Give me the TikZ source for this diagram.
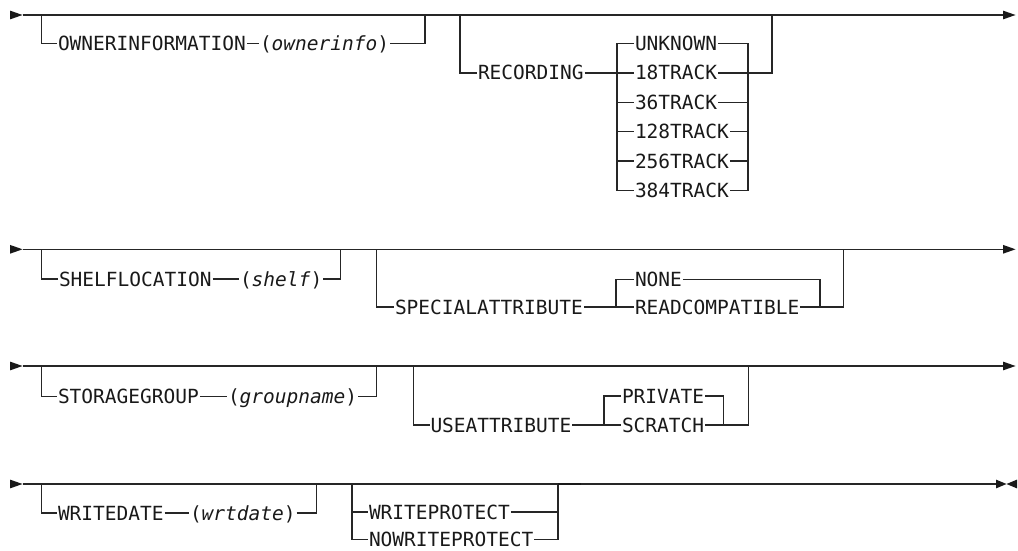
\documentclass[tikz,border=0pt]{standalone}
\usepackage{fontspec}
\newfontfamily\dmono{DejaVu Sans Mono}
\begin{document}
\tikzset{
  rail/.style={line width=1.3pt, draw=black!85},
  thickrail/.style={line width=2.8pt, draw=black!90},
  kw/.style={inner xsep=0.8pt, inner ysep=0pt, anchor=west, text height=14.2pt,
             text depth=0pt, font=\dmono\fontsize{19.5}{20}\selectfont, text=black!90},
  tip/.style={fill=black!90, draw=none},
}
\begin{tikzpicture}[x=1pt,y=-1pt]
\useasboundingbox (0,0) rectangle (1018,551);

% ================= Row 1 =================
\coordinate (r1s) at (22.5,15);
\coordinate (r1e) at (1003,15);
\fill[tip] (10,10.6) -- (r1s) -- (10,19.4) -- cycle;
\draw[rail] (r1s) -- (r1e);
\fill[tip] (1003,10.6) -- (1015.5,15) -- (1003,19.4) -- cycle;

\node[kw] (own) at (57,43.5) {OWNERINFORMATION};
\node[kw] (ownv) at (259,43.5) {(\textit{ownerinfo})};
\coordinate (own1) at (41.7,15);
\coordinate (own2) at (425,15);
\draw[rail] (own1) |- (own.west);
\draw[rail] (own.east) -- (ownv.west);
\draw[rail] (ownv.east) -| (own2);

\coordinate (rec1) at (460,15);
\coordinate (rec2) at (772,15);
\node[kw] (rec) at (477,72.9) {RECORDING};
\node[kw] (c1) at (634,43.5) {UNKNOWN};
\node[kw] (c2) at (634,72.9) {18TRACK};
\node[kw] (c3) at (634,102.3) {36TRACK};
\node[kw] (c4) at (634,131.7) {128TRACK};
\node[kw] (c5) at (634,161.1) {256TRACK};
\node[kw] (c6) at (634,190.5) {384TRACK};
\coordinate (recL) at (617,190.5);
\coordinate (recR) at (748,190.5);
\draw[rail] (rec1) |- (rec.west);
\draw[rail] (rec.east) -- (c2.west);
\draw[rail] (c1.west) -| (recL) -- (c6.west);
\foreach \c in {c3,c4,c5} \draw[rail] (recL |- \c.west) -- (\c.west);
\draw[rail] (c1.east) -| (recR) -- (c6.east);
\foreach \c in {c2,c3,c4,c5} \draw[rail] (\c.east) -- (recR |- \c.east);
\draw[rail] (recR |- c2.east) -| (rec2);

% ================= Row 2 =================
\coordinate (r2s) at (22.5,249.3);
\coordinate (r2e) at (1003,249.3);
\fill[tip] (10,244.9) -- (r2s) -- (10,253.7) -- cycle;
\draw[rail] (r2s) -- (r2e);
\fill[tip] (1003,244.9) -- (1015.5,249.3) -- (1003,253.7) -- cycle;

\node[kw] (shf) at (58,279) {SHELFLOCATION};
\node[kw] (shfv) at (239,279) {(\textit{shelf})};
\coordinate (shf1) at (41.7,249.3);
\coordinate (shf2) at (340.7,249.3);
\draw[rail] (shf1) |- (shf.west);
\draw[rail] (shf.east) -- (shfv.west);
\draw[rail] (shfv.east) -| (shf2);

\coordinate (spa1) at (376.7,249.3);
\coordinate (spa2) at (843.3,249.3);
\node[kw] (spa) at (394,306.9) {SPECIALATTRIBUTE};
\node[kw] (d1) at (634,279.3) {NONE};
\node[kw] (d2) at (634,306.9) {READCOMPATIBLE};
\coordinate (spaL) at (616,306.9);
\coordinate (spaR) at (820,306.9);
\draw[rail] (spa1) |- (spa.west);
\draw[rail] (spa.east) -- (d2.west);
\draw[rail] (d1.west) -| (spaL);
\draw[rail] (d1.east) -| (spaR) -- (d2.east);
\draw[rail] (spaR) -| (spa2);

% ================= Row 3 =================
\coordinate (r3s) at (22.5,366);
\coordinate (r3e) at (1003,366);
\fill[tip] (10,361.6) -- (r3s) -- (10,370.4) -- cycle;
\draw[rail] (r3s) -- (r3e);
\fill[tip] (1003,361.6) -- (1015.5,366) -- (1003,370.4) -- cycle;

\node[kw] (stg) at (57,396.7) {STORAGEGROUP};
\node[kw] (stgv) at (227,396.7) {(\textit{groupname})};
\coordinate (stg1) at (41.7,366);
\coordinate (stg2) at (376.7,366);
\draw[rail] (stg1) |- (stg.west);
\draw[rail] (stg.east) -- (stgv.west);
\draw[rail] (stgv.east) -| (stg2);

\coordinate (use1) at (413.3,366);
\coordinate (use2) at (748.3,366);
\node[kw] (use) at (429.5,425) {USEATTRIBUTE};
\node[kw] (e1) at (621,396) {PRIVATE};
\node[kw] (e2) at (621,425) {SCRATCH};
\coordinate (useL) at (604,425);
\coordinate (useR) at (723.3,425);
\draw[rail] (use1) |- (use.west);
\draw[rail] (use.east) -- (e2.west);
\draw[rail] (e1.west) -| (useL);
\draw[rail] (e1.east) -| (useR) -- (e2.east);
\draw[rail] (useR) -| (use2);

% ================= Row 4 =================
\coordinate (r4s) at (22.5,484);
\coordinate (r4e) at (996,484);
\fill[tip] (10,479.6) -- (r4s) -- (10,488.4) -- cycle;
\draw[rail] (r4s) -- (r4e);
\fill[tip] (996,479.6) -- (1006.5,484) -- (996,488.4) -- cycle;
\fill[tip] (1017,479.6) -- (1006.5,484) -- (1017,488.4) -- cycle;

\node[kw] (wd) at (57,513) {WRITEDATE};
\node[kw] (wdv) at (189,513) {(\textit{wrtdate})};
\coordinate (wd1) at (41.7,484);
\coordinate (wd2) at (316.7,484);
\draw[rail] (wd1) |- (wd.west);
\draw[rail] (wd.east) -- (wdv.west);
\draw[rail] (wdv.east) -| (wd2);

\coordinate (wp1) at (352,484);
\coordinate (wp2) at (558,484);
\node[kw] (f1) at (368,512) {WRITEPROTECT};
\node[kw] (f2) at (368,539.5) {NOWRITEPROTECT};
\coordinate (wpL) at (352,539.5);
\coordinate (wpR) at (558,539.5);
\draw[rail] (wp1) -- (wpL) -- (f2.west);
\draw[rail] (wpL |- f1.west) -- (f1.west);
\draw[rail] (f2.east) -- (wpR) -- (wp2);
\draw[rail] (f1.east) -- (wpR |- f1.east);
\coordinate (th) at (581,484);
\draw[thickrail] (wp2) -- (th);
\end{tikzpicture}
\end{document}
